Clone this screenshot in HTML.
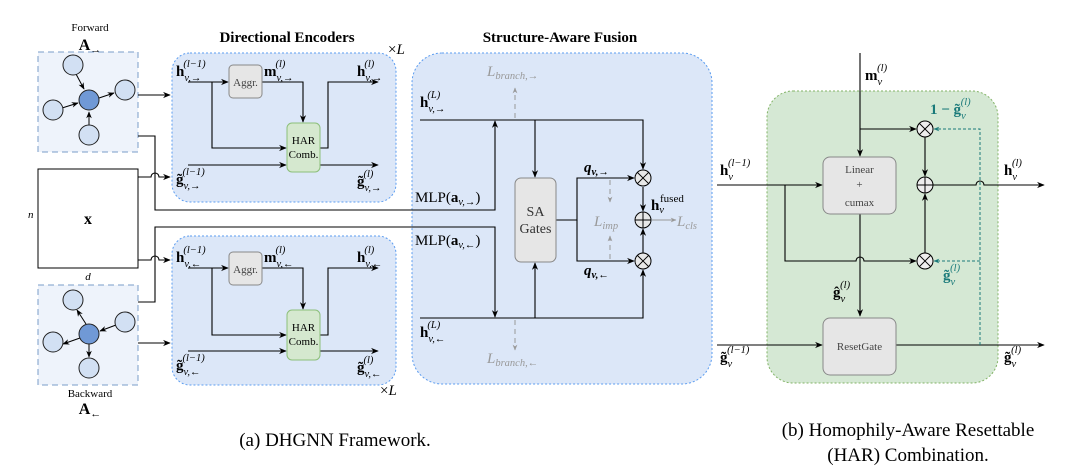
<!DOCTYPE html>
<html><head><meta charset="utf-8"><style>
html,body{margin:0;padding:0;background:#fff}
svg{display:block;font-family:"Liberation Serif",serif}
.b{font-weight:bold}
</style></head><body>
<svg width="1080" height="476" viewBox="0 0 1080 476" xmlns="http://www.w3.org/2000/svg">
<defs>
<marker id="a" viewBox="0 0 10 10" refX="9" refY="5" markerWidth="7" markerHeight="7" orient="auto"><path d="M0,1 L10,5 L0,9 L3,5z" fill="#000"/></marker>
<marker id="g" viewBox="0 0 10 10" refX="9" refY="5" markerWidth="6" markerHeight="6" orient="auto"><path d="M0,1 L10,5 L0,9 L3,5z" fill="#999"/></marker>
<marker id="t" viewBox="0 0 10 10" refX="9" refY="5" markerWidth="6" markerHeight="6" orient="auto"><path d="M0,1 L10,5 L0,9 L3,5z" fill="#1a7a7a"/></marker>
</defs>

<text x="287" y="42" font-size="15" class="b" text-anchor="middle">Directional Encoders</text>
<text x="560" y="42" font-size="15" class="b" text-anchor="middle">Structure-Aware Fusion</text>
<text x="388" y="54" font-size="15">×<tspan font-style="italic">L</tspan></text>
<text x="380" y="395" font-size="15">×<tspan font-style="italic">L</tspan></text>

<text x="90" y="31" font-size="11" text-anchor="middle">Forward</text>
<text x="90" y="50" font-size="16" class="b" text-anchor="middle">A<tspan font-size="11" font-weight="normal" dy="3">→</tspan></text>
<rect x="38" y="52" width="100" height="100" fill="#eef3fb" stroke="#7a9cc8" stroke-dasharray="6,4"/>
<g stroke="#000" stroke-width="1">
<line x1="76" y1="74" x2="84" y2="89" marker-end="url(#a)"/>
<line x1="62" y1="108" x2="78" y2="103" marker-end="url(#a)"/>
<line x1="99" y1="98" x2="114" y2="93" marker-end="url(#a)"/>
<line x1="89" y1="125" x2="89" y2="112" marker-end="url(#a)"/>
</g>
<g stroke="#222" fill="#d2e0f3"><circle cx="73" cy="65" r="10"/><circle cx="125" cy="90" r="10"/><circle cx="53" cy="110" r="10"/><circle cx="89" cy="135" r="10"/><circle cx="89" cy="100" r="10" fill="#7099d6"/></g>

<rect x="38" y="285" width="100" height="100" fill="#eef3fb" stroke="#7a9cc8" stroke-dasharray="6,4"/>
<g stroke="#000">
<line x1="86" y1="324" x2="77" y2="310" marker-end="url(#a)"/>
<line x1="116" y1="325" x2="100" y2="331" marker-end="url(#a)"/>
<line x1="80" y1="338" x2="63" y2="344" marker-end="url(#a)"/>
<line x1="89" y1="344" x2="89" y2="357" marker-end="url(#a)"/>
</g>
<g stroke="#222" fill="#d2e0f3"><circle cx="73" cy="300" r="10"/><circle cx="125" cy="322" r="10"/><circle cx="53" cy="342" r="10"/><circle cx="89" cy="368" r="10"/><circle cx="89" cy="334" r="10" fill="#7099d6"/></g>
<text x="90" y="397" font-size="11" text-anchor="middle">Backward</text>
<text x="90" y="414" font-size="16" class="b" text-anchor="middle">A<tspan font-size="11" font-weight="normal" dy="3">←</tspan></text>

<rect x="38" y="169" width="100" height="99" fill="#fff" stroke="#000"/>
<text x="88" y="224" font-size="16" class="b" text-anchor="middle">x</text>
<text x="28" y="218" font-size="11" font-style="italic">n</text>
<text x="88" y="280" font-size="11" font-style="italic" text-anchor="middle">d</text>

<rect x="172" y="53" width="224" height="149" rx="18" fill="#dce7f8" stroke="#5b9cf0" stroke-dasharray="2,2"/>
<rect x="172" y="236" width="224" height="149" rx="18" fill="#dce7f8" stroke="#5b9cf0" stroke-dasharray="2,2"/>
<rect x="412" y="53" width="300" height="331" rx="30" fill="#dce7f8" stroke="#5b9cf0" stroke-dasharray="2,2"/>

<g stroke="#000" fill="none" stroke-width="1.1">
<line x1="138" y1="95" x2="170" y2="95" marker-end="url(#a)"/>
<path d="M138,136 H155 V210 H495 V121" marker-end="url(#a)"/>
<path d="M138,177 H151 a4,4 0 0 1 8,0 H170" marker-end="url(#a)"/>
<path d="M138,302 H155 V227 H495 V317" marker-end="url(#a)"/>
<path d="M138,260 H151 a4,4 0 0 1 8,0 H170" marker-end="url(#a)"/>
<line x1="138" y1="343" x2="170" y2="343" marker-end="url(#a)"/>
</g>

<g stroke="#000" fill="none" stroke-width="1.1">
<line x1="188" y1="82" x2="228" y2="82" marker-end="url(#a)"/>
<path d="M212,82 V148 H286" marker-end="url(#a)"/>
<path d="M262,82 H303 V122" marker-end="url(#a)"/>
<line x1="188" y1="165" x2="286" y2="165" marker-end="url(#a)"/>
<line x1="320" y1="165" x2="378" y2="165" marker-end="url(#a)"/>
<path d="M320,148 H328 V82 H378" marker-end="url(#a)"/>
</g>
<rect x="229" y="65" width="33" height="33" rx="4" fill="#e6e6e6" stroke="#888"/>
<text x="245.5" y="86" font-size="11" text-anchor="middle" fill="#444">Aggr.</text>
<rect x="287" y="123" width="33" height="49" rx="5" fill="#d5e8cf" stroke="#8cbf7a"/>
<text x="303.5" y="144" font-size="11" text-anchor="middle">HAR</text>
<text x="303.5" y="158" font-size="11" text-anchor="middle">Comb.</text>

<g stroke="#000" fill="none" stroke-width="1.1">
<line x1="188" y1="268" x2="228" y2="268" marker-end="url(#a)"/>
<path d="M212,268 V335 H286" marker-end="url(#a)"/>
<path d="M262,268 H303 V309" marker-end="url(#a)"/>
<line x1="188" y1="351" x2="286" y2="351" marker-end="url(#a)"/>
<line x1="320" y1="351" x2="378" y2="351" marker-end="url(#a)"/>
<path d="M320,335 H328 V268 H378" marker-end="url(#a)"/>
</g>
<rect x="229" y="252" width="33" height="33" rx="4" fill="#e6e6e6" stroke="#888"/>
<text x="245.5" y="273" font-size="11" text-anchor="middle" fill="#444">Aggr.</text>
<rect x="287" y="310" width="33" height="50" rx="5" fill="#d5e8cf" stroke="#8cbf7a"/>
<text x="303.5" y="331" font-size="11" text-anchor="middle">HAR</text>
<text x="303.5" y="345" font-size="11" text-anchor="middle">Comb.</text>

<g font-size="15">
<text x="176" y="76" class="b">h<tspan font-size="10.5" font-weight="normal" font-style="italic" dy="5">v,→</tspan><tspan font-size="10.5" font-weight="normal" font-style="italic" dx="-18" dy="-14">(l−1)</tspan></text>
<text x="264" y="76" class="b">m<tspan font-size="10.5" font-weight="normal" font-style="italic" dy="5">v,→</tspan><tspan font-size="10.5" font-weight="normal" font-style="italic" dx="-18" dy="-14">(l)</tspan></text>
<text x="357" y="76" class="b">h<tspan font-size="10.5" font-weight="normal" font-style="italic" dy="5">v,→</tspan><tspan font-size="10.5" font-weight="normal" font-style="italic" dx="-18" dy="-14">(l)</tspan></text>
<text x="176" y="184" class="b">g̃<tspan font-size="10.5" font-weight="normal" font-style="italic" dy="5">v,→</tspan><tspan font-size="10.5" font-weight="normal" font-style="italic" dx="-18" dy="-14">(l−1)</tspan></text>
<text x="357" y="186" class="b">g̃<tspan font-size="10.5" font-weight="normal" font-style="italic" dy="5">v,→</tspan><tspan font-size="10.5" font-weight="normal" font-style="italic" dx="-18" dy="-14">(l)</tspan></text>
<text x="176" y="262" class="b">h<tspan font-size="10.5" font-weight="normal" font-style="italic" dy="5">v,←</tspan><tspan font-size="10.5" font-weight="normal" font-style="italic" dx="-18" dy="-14">(l−1)</tspan></text>
<text x="264" y="262" class="b">m<tspan font-size="10.5" font-weight="normal" font-style="italic" dy="5">v,←</tspan><tspan font-size="10.5" font-weight="normal" font-style="italic" dx="-18" dy="-14">(l)</tspan></text>
<text x="357" y="262" class="b">h<tspan font-size="10.5" font-weight="normal" font-style="italic" dy="5">v,←</tspan><tspan font-size="10.5" font-weight="normal" font-style="italic" dx="-18" dy="-14">(l)</tspan></text>
<text x="176" y="370" class="b">g̃<tspan font-size="10.5" font-weight="normal" font-style="italic" dy="5">v,←</tspan><tspan font-size="10.5" font-weight="normal" font-style="italic" dx="-18" dy="-14">(l−1)</tspan></text>
<text x="357" y="372" class="b">g̃<tspan font-size="10.5" font-weight="normal" font-style="italic" dy="5">v,←</tspan><tspan font-size="10.5" font-weight="normal" font-style="italic" dx="-18" dy="-14">(l)</tspan></text>
</g>

<g stroke="#000" fill="none" stroke-width="1.1">
<path d="M420,120 H643 V169" marker-end="url(#a)"/>
<line x1="535" y1="120" x2="535" y2="177" marker-end="url(#a)"/>
<path d="M556,220 H577 V178 H634" marker-end="url(#a)"/>
<path d="M577,220 V261 H634" marker-end="url(#a)"/>
<path d="M420,318 H643 V270" marker-end="url(#a)"/>
<line x1="535" y1="318" x2="535" y2="263" marker-end="url(#a)"/>
<line x1="643" y1="187" x2="643" y2="211" marker-end="url(#a)"/>
<line x1="643" y1="253" x2="643" y2="229" marker-end="url(#a)"/>
</g>
<g stroke="#999" fill="none" stroke-dasharray="5,4">
<line x1="515" y1="118" x2="515" y2="88" marker-end="url(#g)"/>
<line x1="515" y1="320" x2="515" y2="350" marker-end="url(#g)"/>
<line x1="610" y1="180" x2="610" y2="202" marker-end="url(#g)"/>
<line x1="610" y1="259" x2="610" y2="236" marker-end="url(#g)"/>
</g>
<line x1="652" y1="220" x2="676" y2="220" stroke="#999" marker-end="url(#g)"/>
<rect x="515" y="178" width="41" height="84" rx="6" fill="#e6e6e6" stroke="#888"/>
<text x="535.5" y="216" font-size="14" text-anchor="middle" fill="#333">SA</text>
<text x="535.5" y="233" font-size="14" text-anchor="middle" fill="#333">Gates</text>
<g stroke="#000" fill="#e8e8e8"><circle cx="643" cy="178" r="8"/><circle cx="643" cy="220" r="8"/><circle cx="643" cy="261" r="8"/></g>
<g stroke="#000"><line x1="637.3" y1="172.3" x2="648.7" y2="183.7"/><line x1="648.7" y1="172.3" x2="637.3" y2="183.7"/><line x1="635" y1="220" x2="651" y2="220"/><line x1="643" y1="212" x2="643" y2="228"/><line x1="637.3" y1="255.3" x2="648.7" y2="266.7"/><line x1="648.7" y1="255.3" x2="637.3" y2="266.7"/></g>
<g font-size="15">
<text x="420" y="107" class="b">h<tspan font-size="10.5" font-weight="normal" font-style="italic" dy="5">v,→</tspan><tspan font-size="10.5" font-weight="normal" font-style="italic" dx="-18" dy="-14">(L)</tspan></text>
<text x="420" y="337" class="b">h<tspan font-size="10.5" font-weight="normal" font-style="italic" dy="5">v,←</tspan><tspan font-size="10.5" font-weight="normal" font-style="italic" dx="-18" dy="-14">(L)</tspan></text>
<text x="415" y="202">MLP(<tspan class="b">a</tspan><tspan font-size="10.5" font-style="italic" dy="3">v,→</tspan><tspan dy="-3">)</tspan></text>
<text x="415" y="245">MLP(<tspan class="b">a</tspan><tspan font-size="10.5" font-style="italic" dy="3">v,←</tspan><tspan dy="-3">)</tspan></text>
<text x="487" y="76" fill="#999" font-style="italic">L<tspan font-size="10.5" dy="3">branch,→</tspan></text>
<text x="487" y="363" fill="#999" font-style="italic">L<tspan font-size="10.5" dy="3">branch,←</tspan></text>
<text x="594" y="226" fill="#999" font-style="italic">L<tspan font-size="10.5" dy="3">imp</tspan></text>
<text x="677" y="226" fill="#999" font-style="italic">L<tspan font-size="10.5" dy="3">cls</tspan></text>
<text x="584" y="172" font-style="italic" class="b">q<tspan font-size="10.5" dy="3">v,→</tspan></text>
<text x="584" y="275" font-style="italic" class="b">q<tspan font-size="10.5" dy="3">v,←</tspan></text>
<text x="651" y="210" class="b">h<tspan font-size="10.5" font-weight="normal" font-style="italic" dy="3">v</tspan><tspan font-size="11" font-weight="normal" dx="-4" dy="-11">fused</tspan></text>
</g>

<rect x="767" y="91" width="231" height="292" rx="26" fill="#d5e8d4" stroke="#82b366" stroke-dasharray="2,2"/>
<g stroke="#000" fill="none" stroke-width="1.1">
<line x1="860" y1="53" x2="860" y2="156" marker-end="url(#a)"/>
<line x1="860" y1="129" x2="916" y2="129" marker-end="url(#a)"/>
<line x1="717" y1="185" x2="822" y2="185" marker-end="url(#a)"/>
<path d="M785,185 V261 H856 a4,4 0 0 1 8,0 H916" marker-end="url(#a)"/>
<line x1="860" y1="214" x2="860" y2="316" marker-end="url(#a)"/>
<line x1="925" y1="137" x2="925" y2="176" marker-end="url(#a)"/>
<line x1="925" y1="253" x2="925" y2="194" marker-end="url(#a)"/>
<path d="M933,185 H976 a4,4 0 0 1 8,0 H1044" marker-end="url(#a)"/>
<line x1="717" y1="345" x2="822" y2="345" marker-end="url(#a)"/>
<line x1="896" y1="345" x2="1044" y2="345" marker-end="url(#a)"/>
</g>
<g stroke="#1a7a7a" fill="none" stroke-dasharray="3,2">
<path d="M980,345 V129 H934" marker-end="url(#t)"/>
<path d="M980,261 H934" marker-end="url(#t)"/>
</g>
<rect x="823" y="157" width="73" height="57" rx="7" fill="#e6e6e6" stroke="#888"/>
<text x="859.5" y="173" font-size="11" text-anchor="middle" fill="#444">Linear</text>
<text x="859.5" y="188" font-size="11" text-anchor="middle" fill="#444">+</text>
<text x="859.5" y="206" font-size="11" text-anchor="middle" fill="#444">cumax</text>
<rect x="823" y="318" width="73" height="57" rx="7" fill="#e6e6e6" stroke="#888"/>
<text x="859.5" y="350" font-size="11" text-anchor="middle" fill="#444">ResetGate</text>
<g stroke="#000" fill="#eee"><circle cx="925" cy="129" r="8"/><circle cx="925" cy="185" r="8"/><circle cx="925" cy="261" r="8"/></g>
<g stroke="#000"><line x1="919.3" y1="123.3" x2="930.7" y2="134.7"/><line x1="930.7" y1="123.3" x2="919.3" y2="134.7"/><line x1="917" y1="185" x2="933" y2="185"/><line x1="925" y1="177" x2="925" y2="193"/><line x1="919.3" y1="255.3" x2="930.7" y2="266.7"/><line x1="930.7" y1="255.3" x2="919.3" y2="266.7"/></g>
<g font-size="15">
<text x="865" y="80" class="b">m<tspan font-size="10.5" font-weight="normal" font-style="italic" dy="5">v</tspan><tspan font-size="10.5" font-weight="normal" font-style="italic" dx="-5" dy="-14">(l)</tspan></text>
<text x="720" y="175" class="b">h<tspan font-size="10.5" font-weight="normal" font-style="italic" dy="5">v</tspan><tspan font-size="10.5" font-weight="normal" font-style="italic" dx="-5" dy="-14">(l−1)</tspan></text>
<text x="1004" y="175" class="b">h<tspan font-size="10.5" font-weight="normal" font-style="italic" dy="5">v</tspan><tspan font-size="10.5" font-weight="normal" font-style="italic" dx="-5" dy="-14">(l)</tspan></text>
<text x="833" y="297" class="b">ĝ<tspan font-size="10.5" font-weight="normal" font-style="italic" dy="5">v</tspan><tspan font-size="10.5" font-weight="normal" font-style="italic" dx="-5" dy="-14">(l)</tspan></text>
<text x="720" y="362" class="b">g̃<tspan font-size="10.5" font-weight="normal" font-style="italic" dy="5">v</tspan><tspan font-size="10.5" font-weight="normal" font-style="italic" dx="-5" dy="-14">(l−1)</tspan></text>
<text x="1004" y="362" class="b">g̃<tspan font-size="10.5" font-weight="normal" font-style="italic" dy="5">v</tspan><tspan font-size="10.5" font-weight="normal" font-style="italic" dx="-5" dy="-14">(l)</tspan></text>
<text x="930" y="114" fill="#1a7a7a" class="b">1 − g̃<tspan font-size="10.5" font-weight="normal" font-style="italic" dy="5">v</tspan><tspan font-size="10.5" font-weight="normal" font-style="italic" dx="-5" dy="-14">(l)</tspan></text>
<text x="943" y="280" fill="#1a7a7a" class="b">g̃<tspan font-size="10.5" font-weight="normal" font-style="italic" dy="5">v</tspan><tspan font-size="10.5" font-weight="normal" font-style="italic" dx="-5" dy="-14">(l)</tspan></text>
</g>

<text x="335" y="446" font-size="19" text-anchor="middle">(a) DHGNN Framework.</text>
<text x="908" y="436" font-size="19" text-anchor="middle">(b) Homophily-Aware Resettable</text>
<text x="908" y="461" font-size="19" text-anchor="middle">(HAR) Combination.</text>
</svg>
</body></html>
